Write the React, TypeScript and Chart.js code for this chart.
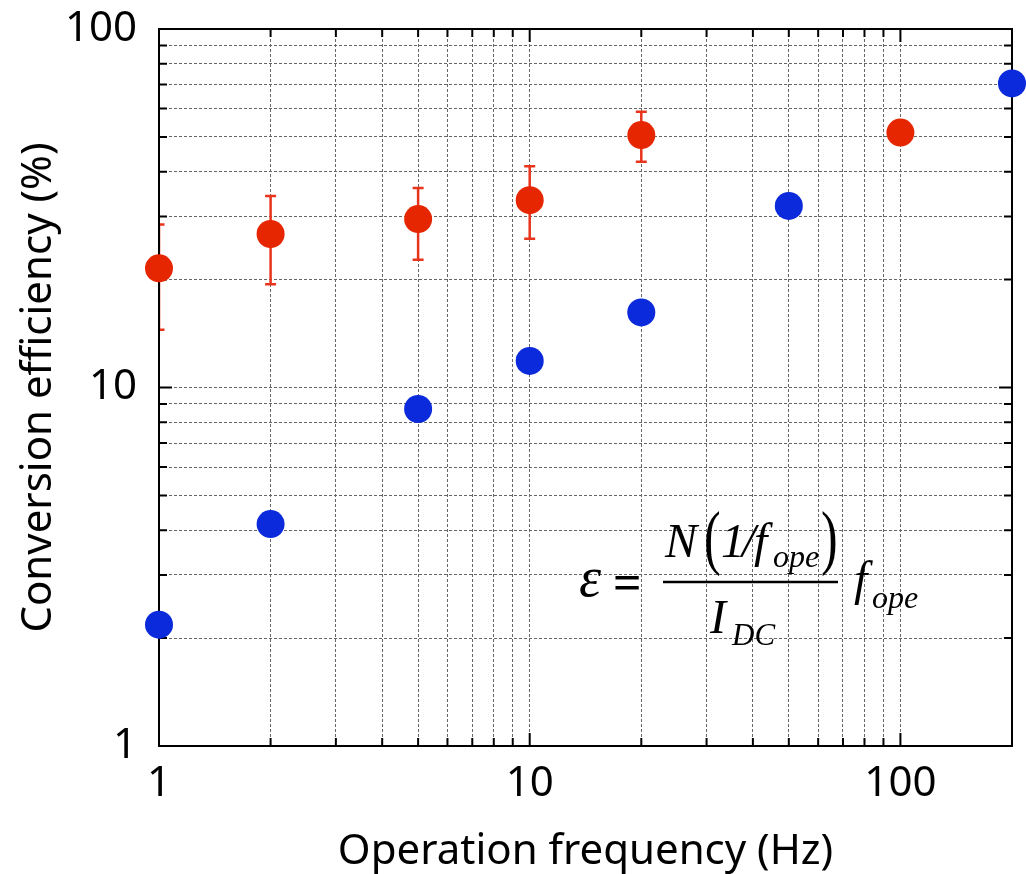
import React, { useEffect, useRef } from 'react';
import { Chart, registerables } from 'chart.js';

Chart.register(...registerables);

// Pulsed operation (red): frequency, efficiency and error-bar limits
const redFrequency = [1, 2, 5, 10, 20, 100];
const redEfficiency = [21.5, 26.8, 29.5, 33.3, 50.6, 51.4];
const redErrorLow = [14.5, 19.4, 22.7, 26.0, 42.6, null];
const redErrorHigh = [28.5, 34.2, 36.0, 41.4, 58.8, null];

// Reference series (blue)
const blueFrequency = [1, 2, 5, 10, 20, 50, 200];
const blueEfficiency = [2.18, 4.16, 8.71, 11.86, 16.2, 32.1, 70.5];

// Log grid positions and labelled decades
const xGridValues = [1, 2, 3, 4, 5, 6, 7, 8, 9, 10, 20, 30, 40, 50, 60, 70, 80, 90, 100, 200];
const yGridValues = [1, 2, 3, 4, 5, 6, 7, 8, 9, 10, 20, 30, 40, 50, 60, 70, 80, 90, 100];
const xTickLabels = [1, 10, 100];
const yTickLabels = [1, 10, 100];

const RED = '#E62600';
const BLUE = '#0A2ADB';
const SANS = '"Noto Sans", "DejaVu Sans", sans-serif';
const SERIF = '"Liberation Serif", "DejaVu Serif", serif';

// Frame, inward tick marks and error bars, drawn beneath the points
const frameAndErrors = {
  id: 'frameAndErrors',
  beforeDatasetsDraw(chart: any) {
    const { ctx, chartArea, scales } = chart;
    const { left, right, top, bottom } = chartArea;
    const xs = scales.x;
    const ys = scales.y;
    ctx.save();

    // error bars, clipped to the plot area
    ctx.save();
    ctx.beginPath();
    ctx.rect(left, top, right - left, bottom - top);
    ctx.clip();
    ctx.strokeStyle = '#E8341C';
    ctx.lineWidth = 2.5;
    ctx.beginPath();
    redFrequency.forEach((f, i) => {
      const lo = redErrorLow[i];
      const hi = redErrorHigh[i];
      if (lo == null || hi == null) return;
      const px = xs.getPixelForValue(f);
      const pLo = ys.getPixelForValue(lo);
      const pHi = ys.getPixelForValue(hi);
      ctx.moveTo(px, pLo);
      ctx.lineTo(px, pHi);
      ctx.moveTo(px - 5.5, pLo);
      ctx.lineTo(px + 5.5, pLo);
      ctx.moveTo(px - 5.5, pHi);
      ctx.lineTo(px + 5.5, pHi);
    });
    ctx.stroke();
    ctx.restore();

    // frame
    ctx.strokeStyle = '#000';
    ctx.lineWidth = 2;
    ctx.strokeRect(left, top, right - left, bottom - top);

    // ticks pointing into the plot on all four sides
    ctx.beginPath();
    xs.ticks.forEach((t: any) => {
      const px = xs.getPixelForValue(t.value);
      const len = xTickLabels.includes(t.value) ? 13 : 8;
      ctx.moveTo(px, bottom);
      ctx.lineTo(px, bottom - len);
      ctx.moveTo(px, top);
      ctx.lineTo(px, top + len);
    });
    ys.ticks.forEach((t: any) => {
      const py = ys.getPixelForValue(t.value);
      const len = yTickLabels.includes(t.value) ? 13 : 8;
      ctx.moveTo(left, py);
      ctx.lineTo(left + len, py);
      ctx.moveTo(right, py);
      ctx.lineTo(right - len, py);
    });
    ctx.stroke();
    ctx.restore();
  },
};

// Definition of the conversion efficiency written inside the plot
const equation = {
  id: 'equation',
  afterDraw(chart: any) {
    const ctx = chart.ctx;
    ctx.save();
    ctx.fillStyle = '#000';
    ctx.textAlign = 'left';
    ctx.textBaseline = 'alphabetic';
    const put = (text: string, x: number, y: number, font: string) => {
      ctx.font = font;
      ctx.fillText(text, x, y);
    };
    // tall, thin parenthesis: a regular glyph stretched vertically
    const paren = (text: string, x: number, y: number) => {
      ctx.save();
      ctx.translate(x, y);
      ctx.scale(1, 1.42);
      ctx.font = `50px ${SERIF}`;
      ctx.fillText(text, 0, 0);
      ctx.restore();
    };
    put('ε', 579, 596, `italic 56px ${SERIF}`);
    put('=', 613, 599, `bold 50px ${SERIF}`);
    put('N', 665, 557, `italic 48px ${SERIF}`);
    paren('(', 704, 561);
    put('1', 721, 557, `italic 48px ${SERIF}`);
    put('/', 742, 557, `italic 48px ${SERIF}`);
    put('f', 754, 557, `italic 48px ${SERIF}`);
    put('ope', 773, 567, `italic 32px ${SERIF}`);
    paren(')', 821, 561);
    ctx.strokeStyle = '#000';
    ctx.lineWidth = 2.5;
    ctx.beginPath();
    ctx.moveTo(663, 582);
    ctx.lineTo(838, 582);
    ctx.stroke();
    put('I', 710, 633, `italic 48px ${SERIF}`);
    put('DC', 732, 645, `italic 31px ${SERIF}`);
    put('f', 854, 595, `italic 48px ${SERIF}`);
    put('ope', 872, 608, `italic 32px ${SERIF}`);
    ctx.restore();
  },
};

export default function App() {
  const canvasRef = useRef<HTMLCanvasElement | null>(null);

  useEffect(() => {
    const canvas = canvasRef.current;
    if (!canvas) return;

    const chart = new Chart(canvas, {
      type: 'scatter',
      data: {
        datasets: [
          {
            label: 'blue',
            data: blueFrequency.map((f, i) => ({ x: f, y: blueEfficiency[i] })),
            backgroundColor: BLUE,
            borderColor: BLUE,
            pointRadius: 14,
            pointHoverRadius: 14,
            pointBorderWidth: 0,
            clip: false,
          } as any,
          {
            label: 'red',
            data: redFrequency.map((f, i) => ({ x: f, y: redEfficiency[i] })),
            backgroundColor: RED,
            borderColor: RED,
            pointRadius: 14,
            pointHoverRadius: 14,
            pointBorderWidth: 0,
            clip: false,
          } as any,
        ],
      },
      options: {
        animation: false,
        responsive: false,
        maintainAspectRatio: false,
        layout: { padding: { top: 29, right: 12, left: 0, bottom: 0 } },
        plugins: {
          legend: { display: false },
          tooltip: { enabled: false },
        },
        scales: {
          x: {
            type: 'logarithmic',
            position: 'bottom',
            min: 1,
            max: 200,
            afterBuildTicks: (s: any) => {
              s.ticks = xGridValues.map((v) => ({ value: v }));
            },
            afterFit: (s: any) => {
              s.height = 128;
              s.paddingLeft = 0;
              s.paddingRight = 0;
            },
            ticks: {
              autoSkip: false,
              maxRotation: 0,
              padding: 13,
              color: '#000',
              font: { family: SANS, size: 42 },
              callback: (v: any) => (xTickLabels.includes(Number(v)) ? String(v) : ''),
            },
            grid: { color: '#666', lineWidth: 1, drawTicks: false },
            border: { display: false, dash: [3, 2] },
            title: {
              display: true,
              text: 'Operation frequency (Hz)',
              color: '#000',
              font: { family: SANS, size: 42 },
              padding: { top: 0, bottom: -3 },
            },
          },
          y: {
            type: 'logarithmic',
            min: 1,
            max: 100,
            afterBuildTicks: (s: any) => {
              s.ticks = yGridValues.map((v) => ({ value: v }));
            },
            afterFit: (s: any) => {
              s.width = 159;
              s.paddingTop = 0;
              s.paddingBottom = 0;
            },
            ticks: {
              autoSkip: false,
              padding: 22,
              color: '#000',
              font: { family: SANS, size: 42 },
              callback: (v: any) => (yTickLabels.includes(Number(v)) ? String(v) : ''),
            },
            grid: { color: '#666', lineWidth: 1, drawTicks: false },
            border: { display: false, dash: [3, 2] },
            title: {
              display: true,
              text: 'Conversion efficiency (%)',
              color: '#000',
              font: { family: SANS, size: 42 },
              padding: { top: 14, bottom: 0 },
            },
          },
        },
      } as any,
      plugins: [frameAndErrors, equation],
    });

    return () => chart.destroy();
  }, []);

  return (
    <div style={{ position: 'fixed', left: 0, top: 0, width: 1026, height: 874, background: '#fff' }}>
      <canvas ref={canvasRef} width={1026} height={874} style={{ display: 'block', width: 1026, height: 874 }} />
    </div>
  );
}
